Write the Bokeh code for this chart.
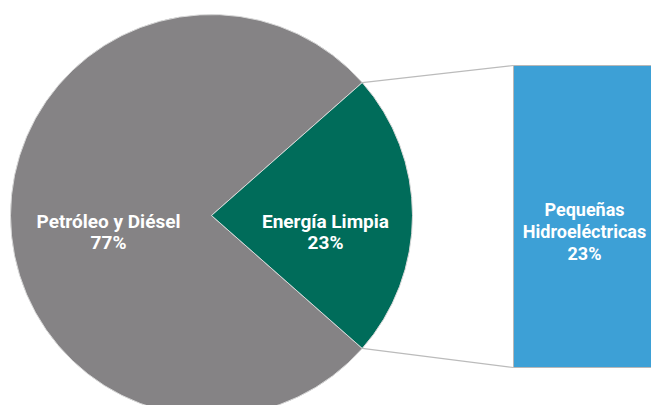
import math
from bokeh.plotting import figure
from bokeh.models import Range1d, ColumnDataSource
from bokeh.core.properties import value
from bokeh.embed import file_html
from bokeh.resources import INLINE

# data
categories = ["Petróleo y Diésel", "Energía Limpia"]
shares = [77, 23]
sub_categories = ["Pequeñas\nHidroeléctricas"]
sub_shares = [23]
colors = ["#858385", "#006C5A"]
bar_color = "#3DA0D6"

W, H = 651, 405
p = figure(width=W, height=H, output_backend="svg", toolbar_location=None,
           x_range=Range1d(0, W), y_range=Range1d(0, H), min_border=0)
p.axis.visible = False
p.grid.visible = False
p.outline_line_color = None
p.background_fill_color = "white"

def Y(ref_y):
    return H - ref_y

cx, cy, r = 211, Y(215), 201
total = sum(shares)
half = math.pi * shares[1] / total  # green wedge centered at 0
starts = [half, -half]
ends = [2 * math.pi - half, half]
src = ColumnDataSource(dict(start=starts, end=ends, color=colors))
p.wedge(x=cx, y=cy, radius=r, start_angle="start", end_angle="end",
        fill_color="color", line_color="#d9d9d9", line_width=1, source=src)

# bar (sub-breakdown)
bx0, bx1, by0, by1 = 513, 680, Y(367), Y(65)
p.quad(left=bx0, right=bx1, bottom=by0, top=by1, fill_color=bar_color,
       line_color="#b8b8b8", line_width=1)

# connector lines
ex = cx + r * math.cos(half)
ey_top = cy + r * math.sin(half)
ey_bot = cy - r * math.sin(half)
p.line([ex, bx0], [ey_top, by1], line_color="#bbbbbb", line_width=1.2)
p.line([ex, bx0], [ey_bot, by0], line_color="#bbbbbb", line_width=1.2)

font = value("Roboto")
def label(x, base_ref_y, lines, step, size="19px"):
    for i, t in enumerate(lines):
        p.text(x=[x], y=[Y(base_ref_y + i * step)], text=[t], text_font=font,
               text_font_size=size, text_font_style="bold", text_color="white",
               text_align="center", text_baseline="alphabetic")

label(108, 221, [categories[0], f"{shares[0]}%"], 21)
label(325, 221, [categories[1], f"{shares[1]}%"], 21)
label(584, 209, sub_categories[0].split("\n") + [f"{sub_shares[0]}%"], 22, size="18px")

open("out.html", "w").write(file_html(p, INLINE))
